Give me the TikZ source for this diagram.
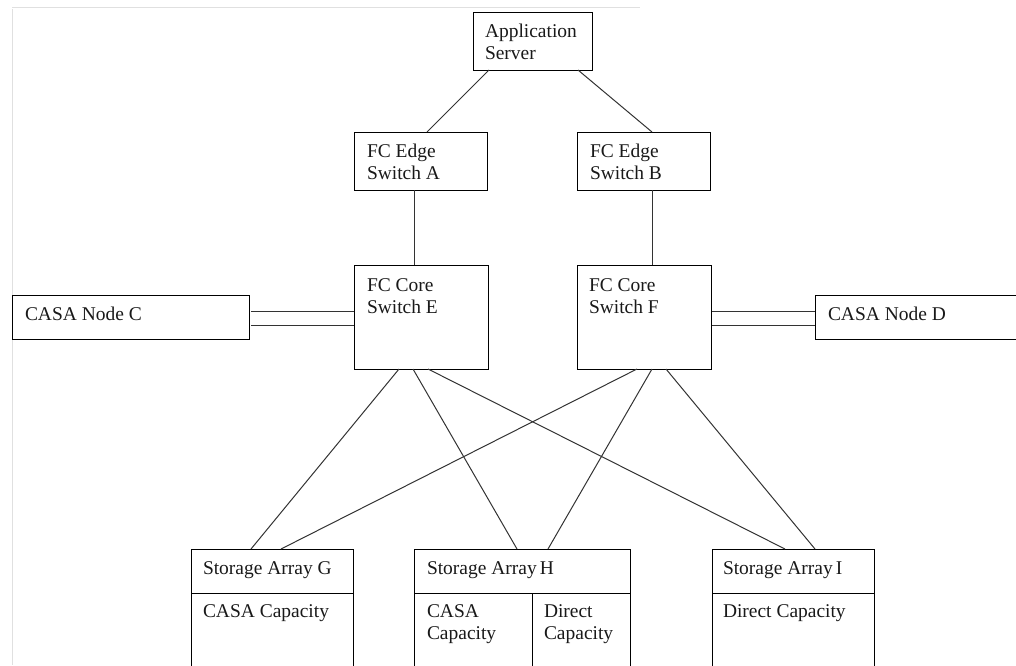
\documentclass[tikz,border=0pt]{standalone}
\usepackage{fontspec}
\setmainfont{Liberation Serif}
\usetikzlibrary{calc}
\newcommand\twoline[2]{\vtop{\hbox{#1}\hbox{#2}}}
\begin{document}
\begin{tikzpicture}[x=0.75pt,y=-0.75pt,
  font=\fontsize{14.6pt}{16.5pt}\selectfont,
  line width=0.75pt,
  bx/.style 2 args={draw, rectangle, minimum width=#1*0.75pt, minimum height=#2*0.75pt, inner sep=0pt, outer sep=0pt, anchor=north west},
  lbl/.style={anchor=base west, inner sep=0pt, outer sep=0pt, text=black!90},
  link/.style={draw=black!80, line width=0.75pt},
  faint/.style={draw=black!12, line width=0.75pt}]
\useasboundingbox (0,0) rectangle (1016,665);
\clip (0,0) rectangle (1016,665);
% faint frame remnants
\draw[faint] (12,7) -- (640,7);
\draw[faint] (12,9) -- (12,665);
% boxes
\node[bx={119}{58}] (app) at (473,12) {};
\node[bx={133}{58}] (A) at (354,132) {};
\node[bx={133}{58}] (B) at (577,132) {};
\node[bx={134}{104}] (E) at (354,265) {};
\node[bx={134}{104}] (F) at (577,265) {};
\node[bx={237}{44}] (C) at (12,295) {};
\node[bx={240}{44}] (D) at (815,295) {};
\node[bx={162}{150}] (G) at (191,549) {};
\node[bx={216}{150}] (H) at (414,549) {};
\node[bx={162}{150}] (I) at (712,549) {};
% dividers in storage arrays
\coordinate (Gd) at ($(G.north west)+(0,44)$);
\coordinate (Hd) at ($(H.north west)+(0,44)$);
\coordinate (Id) at ($(I.north west)+(0,44)$);
\coordinate (Hv) at ($(H.north west)+(118,44)$);
\draw (Gd) -- (Gd -| G.east);
\draw (Hd) -- (Hd -| H.east);
\draw (Id) -- (Id -| I.east);
\draw (Hv) -- (Hv |- H.south);
% connectors
\draw[link] ($(app.south west)+(16,0)$) -- ($(A.north west)+(73,0)$);
\draw[link] ($(app.south west)+(105,0)$) -- ($(B.north west)+(75,0)$);
\draw[link] ($(A.south west)+(60,0)$) -- ($(E.north west)+(60,0)$);
\draw[link] ($(B.south west)+(75,0)$) -- ($(F.north west)+(75,0)$);
\draw[link] ($(C.north east)+(2,16)$) -- ($(E.north west)+(0,46)$);
\draw[link] ($(C.north east)+(2,30)$) -- ($(E.north west)+(0,60)$);
\draw[link] ($(F.north east)+(1,46)$) -- ($(D.north west)+(0,16)$);
\draw[link] ($(F.north east)+(1,60)$) -- ($(D.north west)+(0,30)$);
\draw[link] ($(E.south west)+(45,0)$) -- ($(G.north west)+(60,0)$);
\draw[link] ($(E.south west)+(59,0)$) -- ($(H.north west)+(103,0)$);
\draw[link] ($(E.south west)+(74,0)$) -- ($(I.north west)+(73,0)$);
\draw[link] ($(F.south west)+(60,0)$) -- ($(G.north west)+(90,0)$);
\draw[link] ($(F.south west)+(75,0)$) -- ($(H.north west)+(134,0)$);
\draw[link] ($(F.south west)+(89,0)$) -- ($(I.north west)+(103,0)$);
% labels
\node[lbl] (appT) at ($(app.north west)+(12,25)$) {\twoline{Application}{Server}};
\node[lbl] (AT) at ($(A.north west)+(13,25)$) {\twoline{FC Edge}{Switch A}};
\node[lbl] (BT) at ($(B.north west)+(13,25)$) {\twoline{FC Edge}{Switch B}};
\node[lbl] (ET) at ($(E.north west)+(13,26)$) {\twoline{FC Core}{Switch E}};
\node[lbl] (FT) at ($(F.north west)+(12,26)$) {\twoline{FC Core}{Switch F}};
\node[lbl] (CT) at ($(C.north west)+(13,25)$) {CASA Node C};
\node[lbl] (DT) at ($(D.north west)+(13,25)$) {CASA Node D};
\node[lbl] (GT) at ($(G.north west)+(12,25)$) {Storage Array G};
\node[lbl] (GT2) at ($(G.north west)+(12,68)$) {CASA Capacity};
\node[lbl] (HT) at ($(H.north west)+(13,25)$) {Storage Array\,H};
\node[lbl] (HT2) at ($(H.north west)+(13,68)$) {\twoline{CASA}{Capacity}};
\node[lbl] (HT3) at ($(H.north west)+(130,68)$) {\twoline{Direct}{Capacity}};
\node[lbl] (IT) at ($(I.north west)+(11,25)$) {Storage Array\,I};
\node[lbl] (IT2) at ($(I.north west)+(11,68)$) {Direct Capacity};
\end{tikzpicture}
\end{document}
